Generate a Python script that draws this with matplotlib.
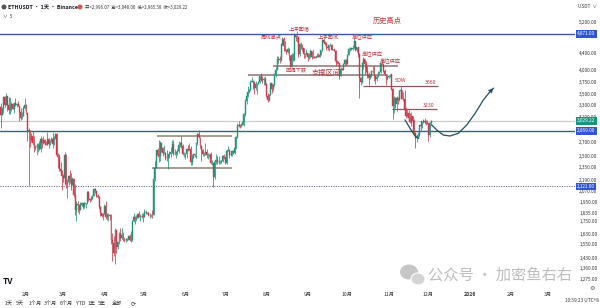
import numpy as np
import matplotlib
matplotlib.use('Agg')
import matplotlib.pyplot as plt
import matplotlib.patches as mpatches
from matplotlib.transforms import blended_transform_factory
from matplotlib.ticker import FixedLocator, NullLocator, NullFormatter

plt.rcParams['font.family'] = ['Noto Sans CJK SC', 'DejaVu Sans']

# ---------------- data (day index: 2025-01-01 = 0) ----------------
first_index = 11          # 2025-01-12
first_open = 3280

closes = [
    # Jan 12-31
    3265, 3135, 3225, 3450, 3310, 3475, 3305, 3215, 3280, 3330, 3240, 3340, 3310, 3320, 3285, 3180, 3075, 3115, 3250, 3300,
    # Feb
    3160, 2870, 2880, 2730, 2790, 2690, 2620, 2630, 2630, 2660, 2600, 2740, 2680, 2725, 2690, 2660, 2740, 2670, 2715, 2740,
    2665, 2765, 2815, 2510, 2490, 2335, 2310, 2240,
    # Mar
    2215, 2520, 2150, 2170, 2240, 2200, 2140, 2200, 2020, 1865, 1920, 1910, 1865, 1910, 1940, 1890, 1925, 1930, 2055, 1980,
    1965, 1980, 2010, 2085, 2065, 2010, 2000, 1895, 1830, 1805, 1825,
    # Apr
    1905, 1795, 1815, 1815, 1805, 1580, 1555, 1475, 1670, 1520, 1565, 1645, 1595, 1625, 1585, 1580, 1585, 1590, 1615, 1585,
    1580, 1755, 1795, 1770, 1785, 1820, 1795, 1800, 1800, 1795,
    # May
    1840, 1840, 1835, 1810, 1815, 1815, 1810, 2205, 2345, 2580, 2515, 2500, 2680, 2610, 2545, 2545, 2480, 2470, 2525, 2525,
    2550, 2665, 2525, 2530, 2550, 2565, 2660, 2680, 2635, 2530, 2530,
    # Jun
    2525, 2605, 2590, 2605, 2420, 2480, 2525, 2510, 2680, 2815, 2770, 2645, 2580, 2535, 2545, 2550, 2510, 2525, 2525, 2405,
    2405, 2230, 2415, 2450, 2420, 2420, 2425, 2435, 2500, 2485,
    # Jul
    2405, 2570, 2590, 2515, 2515, 2570, 2540, 2615, 2770, 2950, 2955, 2945, 2970, 3010, 3140, 3370, 3475, 3545, 3590, 3755,
    3760, 3745, 3620, 3705, 3715, 3745, 3875, 3795, 3790, 3810, 3700,
    # Aug
    3480, 3395, 3495, 3720, 3610, 3680, 3910, 3995, 4255, 4260, 4220, 4600, 4750, 4550, 4440, 4425, 4480, 4320, 4075, 4345,
    4225, 4835, 4780, 4780, 4375, 4600, 4510, 4505, 4360, 4370, 4390,
    # Sep
    4300, 4330, 4450, 4300, 4305, 4275, 4300, 4310, 4305, 4350, 4460, 4715, 4665, 4605, 4525, 4500, 4590, 4590, 4470, 4480,
    4450, 4200, 4165, 4150, 3870, 4030, 4010, 4140, 4215, 4145,
    # Oct
    4350, 4485, 4515, 4485, 4515, 4685, 4455, 4525, 4370, 3830, 3750, 4155, 4245, 4125, 3985, 3890, 3835, 3890, 3985, 3980,
    3875, 3805, 3850, 3935, 3955, 4160, 4120, 3980, 3905, 3810, 3850,
    # Nov
    3875, 3905, 3605, 3290, 3425, 3315, 3440, 3395, 3560, 3580, 3415, 3415, 3230, 3110, 3160, 3085, 3005, 3120, 3025, 2830,
    2765, 2770, 2800, 2955, 2950, 3025, 3015, 3035, 2990, 2990,
    # Dec 1-3
    2800, 2996.07, 3029.22,
]

highs = [
    3300, 3335, 3260, 3475, 3475, 3525, 3480, 3450, 3450, 3365, 3350, 3350, 3425, 3345, 3375, 3295, 3245, 3185, 3285, 3440,
    3325, 3165, 2920, 2890, 2830, 2860, 2795, 2660, 2680, 2680, 2720, 2790, 2760, 2790, 2740, 2720, 2850, 2760, 2735, 2770,
    2845, 2790, 2830, 2830, 2540, 2535, 2420, 2320,
    2265, 2550, 2525, 2210, 2250, 2320, 2285, 2225, 2215, 2150, 1960, 1955, 1920, 1945, 1950, 1940, 1950, 1940, 2070, 2070,
    1990, 2005, 2025, 2105, 2105, 2070, 2030, 2015, 1900, 1830, 1835,
    1925, 1955, 1830, 1830, 1825, 1820, 1640, 1620, 1690, 1670, 1575, 1650, 1690, 1690, 1655, 1610, 1600, 1595, 1620, 1635,
    1660, 1765, 1830, 1800, 1810, 1830, 1850, 1820, 1830, 1830,
    1870, 1865, 1845, 1845, 1830, 1825, 1860, 2210, 2440, 2590, 2610, 2735, 2720, 2680, 2625, 2650, 2550, 2585, 2530, 2570,
    2630, 2735, 2735, 2595, 2565, 2600, 2715, 2700, 2790, 2665, 2550,
    2545, 2620, 2660, 2680, 2640, 2525, 2530, 2535, 2700, 2830, 2880, 2780, 2655, 2600, 2555, 2680, 2595, 2540, 2535, 2560,
    2450, 2410, 2425, 2525, 2495, 2500, 2450, 2450, 2515, 2525,
    2490, 2590, 2640, 2595, 2530, 2590, 2590, 2625, 2790, 2995, 3020, 2975, 3000, 3080, 3165, 3420, 3500, 3675, 3615, 3780,
    3860, 3780, 3755, 3760, 3730, 3765, 3880, 3940, 3880, 3860, 3880,
    3720, 3525, 3505, 3735, 3720, 3700, 3935, 4060, 4320, 4330, 4330, 4630, 4790, 4790, 4680, 4480, 4530, 4500, 4350, 4385,
    4380, 4885, 4850, 4955, 4780, 4640, 4660, 4620, 4520, 4395, 4490,
    4400, 4390, 4490, 4450, 4480, 4310, 4320, 4380, 4380, 4420, 4465, 4730, 4770, 4685, 4650, 4550, 4595, 4640, 4610, 4490,
    4490, 4460, 4230, 4200, 4160, 4060, 4040, 4150, 4245, 4240,
    4355, 4515, 4545, 4520, 4590, 4760, 4700, 4530, 4530, 4385, 3860, 4175, 4290, 4170, 4210, 4090, 3960, 3900, 4000, 4090,
    4085, 3900, 3885, 3975, 3965, 4165, 4255, 4160, 4030, 3920, 3920,
    3890, 3920, 3915, 3620, 3470, 3445, 3470, 3460, 3580, 3660, 3595, 3555, 3580, 3260, 3240, 3220, 3160, 3175, 3105, 3060,
    2850, 2795, 2850, 2960, 2965, 3030, 3060, 3070, 3040, 3050,
    3000, 3010, 3048.00,
]

lows = [
    3215, 2910, 3125, 3160, 3270, 3300, 3200, 3150, 3140, 3205, 3230, 3170, 3280, 3275, 3280, 3020, 3050, 3060, 3110, 3240,
    3140, 2720, 2120, 2630, 2700, 2650, 2550, 2590, 2520, 2550, 2580, 2550, 2620, 2665, 2675, 2650, 2650, 2610, 2655, 2700,
    2620, 2660, 2740, 2500, 2340, 2300, 2250, 2080,
    2170, 2140, 2100, 1990, 2140, 2160, 2080, 2130, 1995, 1810, 1755, 1840, 1820, 1860, 1905, 1870, 1885, 1880, 1925, 1960,
    1945, 1955, 1975, 2010, 2040, 2000, 1990, 1875, 1800, 1790, 1765,
    1820, 1775, 1760, 1755, 1765, 1545, 1410, 1450, 1385, 1470, 1505, 1545, 1575, 1590, 1575, 1565, 1565, 1575, 1585, 1570,
    1565, 1575, 1740, 1725, 1750, 1780, 1790, 1750, 1780, 1745,
    1790, 1825, 1825, 1800, 1780, 1790, 1785, 1810, 2185, 2340, 2485, 2420, 2435, 2560, 2495, 2525, 2450, 2430, 2330, 2470,
    2490, 2545, 2520, 2510, 2480, 2520, 2545, 2625, 2620, 2520, 2490,
    2460, 2480, 2575, 2590, 2375, 2380, 2470, 2490, 2480, 2660, 2755, 2620, 2440, 2505, 2505, 2510, 2475, 2465, 2490, 2395,
    2385, 2110, 2200, 2400, 2400, 2400, 2390, 2410, 2420, 2465,
    2395, 2400, 2565, 2480, 2505, 2500, 2530, 2525, 2605, 2760, 2930, 2910, 2935, 2990, 2950, 3120, 3320, 3450, 3525, 3590,
    3740, 3600, 3500, 3580, 3510, 3705, 3720, 3770, 3730, 3680, 3680,
    3455, 3355, 3370, 3490, 3530, 3560, 3665, 3850, 3990, 4150, 4150, 4200, 4580, 4430, 4440, 4370, 4400, 4220, 4070, 4060,
    4200, 4205, 4700, 4660, 4300, 4315, 4490, 4450, 4270, 4270, 4350,
    4210, 4260, 4280, 4260, 4275, 4270, 4270, 4290, 4290, 4290, 4345, 4440, 4650, 4590, 4470, 4470, 4440, 4555, 4460, 4460,
    4440, 4080, 4140, 4130, 3815, 3880, 3990, 3990, 4100, 4110,
    4130, 4350, 4450, 4460, 4470, 4500, 4430, 4410, 4290, 3435, 3690, 3720, 4030, 3915, 3960, 3840, 3680, 3810, 3860, 3940,
    3770, 3710, 3760, 3850, 3905, 3940, 4110, 3960, 3885, 3680, 3790,
    3825, 3850, 3590, 3055, 3170, 3250, 3200, 3330, 3375, 3545, 3410, 3380, 3150, 3080, 3090, 3040, 3000, 2950, 2880, 2800,
    2620, 2700, 2760, 2780, 2870, 2920, 2990, 2985, 2970, 2975,
    2720, 2780, 2965.58,
]

month_ticks = [31, 59, 90, 120, 151, 181, 212, 243, 273, 304, 334, 365, 396, 424]
month_labels = ['2月', '3月', '4月', '5月', '6月', '7月', '8月', '9月', '10月', '11月', '12月', '2026', '2月', '3月']

price_ticks = [5200, 4400, 4000, 3750, 3500, 3300, 3100, 2700, 2500, 2350, 2190, 2070,
               1950, 1835, 1750, 1630, 1550, 1430, 1360, 1275]

ath_level = 4871.0
support_2869 = 2869.0
dotted_level = 2121.0
last_price = 3029.22

# drawn levels: (price, start day, end day)
box_top = (2790, 129.6, 186.1)
box_bottom = (2342, 125.9, 186.1)
support_hi = (4079, 217.0, 311.1)
support_lo = (3893, 198.1, 302.8)
level_3660 = (3660, 284.7, 341.2)
level_3230 = (3230, 306.6, 340.4)

# hand-drawn projection curves (day, price)
curve1_x = [316.4, 320.1, 323.9, 326.4]
curve1_y = [3044, 2910, 2790, 2755]
curve2_x = [336.5, 340.2, 345.2, 350.2, 356.5, 362.8, 369.1, 375.3, 380.3, 382.8]
curve2_y = [2963, 2883, 2805, 2790, 2831, 2963, 3158, 3396, 3554, 3621]

# annotations: (text, day, price, fontsize)
notes = [
    ('历史高点', 302.8, 5229, 5.2),
    ('周线高点', 215.5, 4766, 3.8),
    ('上冲回落', 236.5, 5006, 3.8),
    ('上冲回试', 258.4, 4766, 3.8),
    ('高位供应', 284.0, 4766, 3.8),
    ('高位供应', 291.5, 4343, 3.8),
    ('高位供应', 305.0, 4180, 3.8),
    ('回调下跌', 234.3, 4002, 3.8),
    ('支撑区间', 256.9, 3936, 5.2),
    ('SOW', 313.3, 3768, 3.8),
    ('3660', 335.9, 3745, 3.8),
    ('3230', 334.4, 3302, 3.8),
]

UP = '#1f9478'
DOWN = '#d23548'
BLUE = '#3b5998'
RED_TXT = '#b8343a'

# ---------------- figure ----------------
W, H = 600, 308
fig = plt.figure(figsize=(W / 100, H / 100), dpi=100)
fig.patch.set_facecolor('white')
ax = fig.add_axes([0, (H - 287) / H, 575 / W, 287 / H])
ax.set_facecolor('none')
ax.set_zorder(2)

c = np.array(closes, dtype=float)
hi = np.array(highs, dtype=float)
lo = np.array(lows, dtype=float)
o = np.r_[first_open, c[:-1]]
idx = np.arange(len(c)) + first_index
hi = np.maximum(hi, np.maximum(o, c))
lo = np.minimum(lo, np.minimum(o, c))
cols = np.where(c >= o, UP, DOWN)

ax.vlines(idx, lo, hi, colors=cols, lw=0.55, zorder=3)
ax.bar(idx, np.abs(c - o), bottom=np.minimum(o, c), width=0.7, color=cols,
       edgecolor=cols, lw=0.3, zorder=4)

ax.set_yscale('log')
ax.set_ylim(1223, 5864)
ax.set_xlim(11.42, 444.3)

# horizontal reference lines
ax.axhline(ath_level, color=BLUE, lw=1.0, zorder=2)
ax.axhline(support_2869, color=BLUE, lw=1.0, zorder=2)
ax.axhline(last_price, color='#cccccc', lw=0.9, zorder=1)
ax.axhline(dotted_level, color='#4a5570', lw=0.7, ls=(0, (1, 1.5)), zorder=2)

for lvl, x0, x1 in [box_top, box_bottom]:
    ax.hlines(lvl, x0, x1, color='#a89a8c', lw=1.4, zorder=2)
for lvl, x0, x1 in [support_hi, support_lo]:
    ax.hlines(lvl, x0, x1, color='#8d7474', lw=1.1, zorder=2)
for lvl, x0, x1 in [level_3660, level_3230]:
    ax.hlines(lvl, x0, x1, color='#8a5a5a', lw=0.9, zorder=2)

ax.plot(curve1_x, curve1_y, color='#1f4f60', lw=0.9, zorder=5)
ax.plot(curve2_x, curve2_y, color='#1f4f60', lw=0.9, zorder=5)
ax.annotate('', xy=(curve2_x[-1], curve2_y[-1]), xytext=(curve2_x[-2], curve2_y[-2]),
            arrowprops=dict(arrowstyle='->', color='#1f4f60', lw=0.9,
                            mutation_scale=6, shrinkA=0, shrinkB=0), zorder=5)

for txt, xd, yd, fs in notes:
    ax.text(xd, yd, txt, fontsize=fs, color=RED_TXT, ha='center', va='center', zorder=6)

# axes styling
for s in ax.spines.values():
    s.set_visible(False)
ax.yaxis.tick_right()
ax.yaxis.set_major_locator(FixedLocator(price_ticks))
ax.yaxis.set_minor_locator(NullLocator())
ax.yaxis.set_minor_formatter(NullFormatter())
ax.set_yticklabels([f'{v:,.2f}' for v in price_ticks])
ax.tick_params(axis='y', length=0, labelsize=3.4, pad=3, labelcolor='#333333')
ax.set_xticks(month_ticks)
ax.set_xticklabels(month_labels)
ax.tick_params(axis='x', length=0, labelsize=3.7, pad=3.5, labelcolor='#333333')
for lab in ax.get_xticklabels():
    if lab.get_text() == '2026':
        lab.set_fontweight('bold')

# price label boxes on the right
tr = blended_transform_factory(ax.transAxes, ax.transData)
for val, colr in [(ath_level, '#2f55d4'), (last_price, '#14967a'),
                  (support_2869, '#2f55d4'), (dotted_level, '#2f55d4')]:
    ax.text(1.004, val, f'{val:,.2f}', transform=tr, fontsize=3.4, color='white',
            ha='left', va='center', clip_on=False, zorder=10,
            bbox=dict(boxstyle='square,pad=0.25', fc=colr, ec='none'))

# ---------------- header / chrome texts ----------------
def fx(px):
    return px / W

def fy(py):
    return 1 - py / H

fig.add_artist(mpatches.Ellipse((fx(4), fy(7)), 5 / W, 5 / H, transform=fig.transFigure,
                                fc='#555555', ec='none', zorder=3))
fig.text(fx(8), fy(7), 'ETHUSDT · 1天 · Binance', fontsize=3.8, color='#131722',
         fontweight='bold', va='center', ha='left', zorder=3)
fig.add_artist(mpatches.Ellipse((fx(80), fy(7)), 5 / W, 5 / H, transform=fig.transFigure,
                                fc='#d9534f', ec='none', zorder=3))
fig.text(fx(85), fy(7), '开=2,996.07  高=3,048.00  低=2,965.58  收=3,029.22', fontsize=3.2,
         color='#333333', va='center', ha='left', zorder=3)
fig.text(fx(3), fy(16), '∨  5', fontsize=3.4, color='#333333', va='center', ha='left')
fig.text(fx(578), fy(6), 'USDT  ∨', fontsize=3.4, color='#333333', va='center', ha='left')

fig.text(fx(3), fy(282), 'TV', fontsize=6, fontweight='bold', color='#131722',
         va='center', ha='left')
period_buttons = ['1天', '5天', '1个月', '3个月', '6个月', 'YTD', '1年', '5年', '全部']
button_x = [8.5, 20, 35, 50, 66.5, 80.5, 91.5, 101.5, 117]
for t, xp in zip(period_buttons, button_x):
    fig.text(fx(xp), fy(303.5), t, fontsize=3.7, color='#333333', va='center', ha='center')
fig.text(fx(133), fy(303.5), '⟳', fontsize=4.5, color='#333333', va='center', ha='center')
fig.text(fx(599), fy(300), '10:59:23 UTC+8', fontsize=3.4, color='#333333',
         va='center', ha='right')
fig.text(fx(592), fy(288), '⚙', fontsize=4.5, color='#555555', va='center', ha='center')

# watermark (behind the chart axes)
fig.add_artist(mpatches.Ellipse((fx(409), fy(272)), 18 / W, 15 / H, transform=fig.transFigure,
                                fc='#c6c6c6', ec='none', zorder=1))
fig.add_artist(mpatches.Ellipse((fx(418), fy(279)), 14 / W, 12 / H, transform=fig.transFigure,
                                fc='#d4d4d4', ec='white', lw=0.8, zorder=1))
fig.text(fx(428), fy(275), '公众号 · 加密鱼右右', fontsize=11.0, color='#bdbdbd',
         va='center', ha='left', zorder=1)

fig.savefig('out.png', dpi=100, facecolor='white')
